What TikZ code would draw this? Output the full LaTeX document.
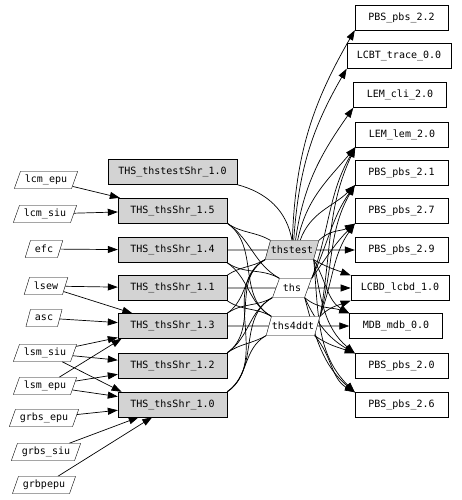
\documentclass[tikz,border=0pt]{standalone}
\usepackage{fontspec}
\setmonofont{DejaVu Sans Mono}
\usetikzlibrary{arrows.meta, shapes.geometric, backgrounds}
\definecolor{shrgray}{HTML}{D3D3D3}

\begin{document}
\begin{tikzpicture}[x=1pt, y=1pt,
  every node/.style={font=\ttfamily\fontsize{10}{12}\selectfont},
  shr/.style={rectangle, draw=black, fill=shrgray, minimum width=109pt, minimum height=25pt, inner xsep=10.5pt},
  pkg/.style={rectangle, draw=black, fill=white, minimum width=93pt, minimum height=25pt, inner xsep=10pt},
  src/.style={trapezium, trapezium left angle=70, trapezium right angle=110, trapezium stretches=true, draw=black, fill=#1, inner xsep=4.5pt, minimum height=17pt},
  src/.default=white,
  mod/.style={src=#1, inner xsep=0.5pt, minimum height=19pt, minimum width=39pt},
  mod/.default=white,
  dep/.style={-{Triangle[length=10pt, width=7pt]}, line width=0.7pt},
  link/.style={line width=0.7pt},
]
  \useasboundingbox (0, 0) rectangle (461, 500);

  % Inputs
  \node[src] (lcmEpu) at (46, 320) {lcm\_epu};
  \node[src] (lcmSiu) at (45, 286) {lcm\_siu};
  \node[src] (efc) at (44, 251) {efc};
  \node[src] (lsew) at (46, 214) {lsew};
  \node[src] (asc) at (44, 182) {asc};
  \node[src] (lsmSiu) at (45, 147) {lsm\_siu};
  \node[src] (lsmEpu) at (45, 114) {lsm\_epu};
  \node[src] (grbsEpu) at (44, 82) {grbs\_epu};
  \node[src] (grbsSiu) at (46, 48) {grbs\_siu};
  \node[src] (grbpepu) at (44, 15) {grbpepu};

  % Shared libraries
  \node[shr] (tstShr) at (172.5, 328) {THS\_thstestShr\_1.0};
  \node[shr] (shr15) at (172.5, 289.5) {THS\_thsShr\_1.5};
  \node[shr] (shr14) at (172.5, 250) {THS\_thsShr\_1.4};
  \node[shr] (shr11) at (172.5, 212) {THS\_thsShr\_1.1};
  \node[shr] (shr13) at (172.5, 174) {THS\_thsShr\_1.3};
  \node[shr] (shr12) at (172.5, 134.5) {THS\_thsShr\_1.2};
  \node[shr] (shr10) at (172.5, 95.5) {THS\_thsShr\_1.0};

  % Modules
  \node[mod=shrgray] (thstest) at (292, 250) {thstest};
  \node[mod] (ths) at (292, 212) {ths};
  \node[mod] (thsddt) at (293, 174) {ths4ddt};

  % Packages
  \node[pkg] (pbs22) at (401.5, 482.5) {PBS\_pbs\_2.2};
  \node[pkg] (lcbt) at (399, 444) {LCBT\_trace\_0.0};
  \node[pkg] (lemCli) at (400, 405) {LEM\_cli\_2.0};
  \node[pkg] (lemLem) at (402, 365.5) {LEM\_lem\_2.0};
  \node[pkg] (pbs21) at (401.5, 327.5) {PBS\_pbs\_2.1};
  \node[pkg] (pbs27) at (401.5, 289) {PBS\_pbs\_2.7};
  \node[pkg] (pbs29) at (401.5, 250) {PBS\_pbs\_2.9};
  \node[pkg] (lcbd) at (400, 212) {LCBD\_lcbd\_1.0};
  \node[pkg] (mdb) at (396, 174) {MDB\_mdb\_0.0};
  \node[pkg] (pbs20) at (401.5, 134) {PBS\_pbs\_2.0};
  \node[pkg] (pbs26) at (401.5, 95) {PBS\_pbs\_2.6};

  \begin{scope}[on background layer]
  \fill[white] (0, 0) rectangle (461, 500);

  % Inputs to shared libraries
  \draw[dep] (lcmEpu) -- (shr15);
  \draw[dep] (lcmSiu) -- (shr15);
  \draw[dep] (efc) -- (shr14);
  \draw[dep] (lsew) -- (shr11);
  \draw[dep] (lsew) -- (shr13);
  \draw[dep] (asc) -- (shr13);
  \draw[dep] (lsmSiu) -- (shr13);
  \draw[dep] (lsmSiu) -- (shr12);
  \draw[dep] (lsmSiu) -- (shr10.166);
  \draw[dep] (lsmEpu) -- (shr13.194);
  \draw[dep] (lsmEpu) -- (shr12);
  \draw[dep] (lsmEpu) -- (shr10);
  \draw[dep] (grbsEpu) -- (shr10);
  \draw[dep] (grbsSiu) -- (shr10);
  \draw[dep] (grbpepu) -- (shr10);

  % Shared libraries to modules
  \draw[link] (tstShr.south east) to[out=-15, in=100] (thstest.north);
  \draw[link] (shr14) -- (thstest);
  \draw[link] (shr11) -- (ths);
  \draw[link] (shr13) -- (thsddt);
  \draw[link] (shr15.south east) to[out=-35, in=150] (thstest.top left corner);
  \draw[link] (shr15.south east) to[out=-35, in=150] (ths.top left corner);
  \draw[link] (shr15.south east) to[out=-35, in=150] (thsddt.top left corner);
  \draw[link] (shr14.south east) to[out=-35, in=150] (ths.top left corner);
  \draw[link] (shr14.south east) to[out=-35, in=150] (thsddt.top left corner);
  \draw[link] (shr11.north east) to[out=35, in=-150] (thstest.bottom left corner);
  \draw[link] (shr11.south east) to[out=-35, in=150] (thsddt.top left corner);
  \draw[link] (shr13.north east) to[out=35, in=-150] (thstest.bottom left corner);
  \draw[link] (shr13.north east) to[out=35, in=-150] (ths.bottom left corner);
  \draw[link] (shr12.north east) to[out=35, in=-150] (thstest.bottom left corner);
  \draw[link] (shr12.north east) to[out=35, in=-150] (ths.bottom left corner);
  \draw[link] (shr12.north east) to[out=35, in=-150] (thsddt.bottom left corner);
  \draw[link] (shr10.north east) to[out=35, in=-150] (thstest.bottom left corner);
  \draw[link] (shr10.north east) to[out=35, in=-150] (ths.bottom left corner);
  \draw[link] (shr10.north east) to[out=35, in=-150] (thsddt.bottom left corner);

  % thstest to packages
  \draw[dep] (thstest.88) to[out=88, in=240] (pbs22.south west);
  \draw[dep] (thstest.80) to[out=86, in=240] (lcbt.south west);
  \draw[dep] (thstest.70) to[out=82, in=235] (lemCli.south west);
  \draw[dep] (thstest.60) to[out=78, in=230] (lemLem.south west);
  \draw[dep] (thstest.50) to[out=70, in=225] (pbs21.south west);
  \draw[dep] (thstest.top right corner) to[out=45, in=210] (pbs27.south west);
  \draw[dep] (thstest) -- (pbs29);
  \draw[dep] (thstest.bottom right corner) to[out=-30, in=160] (lcbd.north west);
  \draw[dep] (thstest.bottom right corner) to[out=-60, in=150] (mdb.north west);
  \draw[dep] (thstest.bottom right corner) to[out=-80, in=140] (pbs20.north west);
  \draw[dep] (thstest.bottom right corner) to[out=-85, in=135] (pbs26.north west);

  % ths to packages
  \draw[dep] (ths.top right corner) to[out=70, in=240] (lemLem.south west);
  \draw[dep] (ths.top right corner) to[out=65, in=235] (pbs21.south west);
  \draw[dep] (ths.top right corner) to[out=55, in=225] (pbs27.south west);
  \draw[dep] (ths) -- (lcbd);
  \draw[dep] (ths.bottom right corner) to[out=-40, in=160] (mdb.north west);
  \draw[dep] (ths.bottom right corner) to[out=-65, in=150] (pbs20.north west);
  \draw[dep] (ths.bottom right corner) to[out=-75, in=140] (pbs26.north west);

  % ths4ddt to packages
  \draw[dep] (thsddt.top right corner) to[out=80, in=245] (lemLem.south west);
  \draw[dep] (thsddt.top right corner) to[out=75, in=240] (pbs21.south west);
  \draw[dep] (thsddt.top right corner) to[out=70, in=235] (pbs27.south west);
  \draw[dep] (thsddt.top right corner) to[out=45, in=200] (lcbd.south west);
  \draw[dep] (thsddt) -- (mdb);
  \draw[dep] (thsddt.bottom right corner) to[out=-35, in=160] (pbs20.north west);
  \draw[dep] (thsddt.bottom right corner) to[out=-50, in=150] (pbs26.north west);
  \end{scope}
\end{tikzpicture}
\end{document}
